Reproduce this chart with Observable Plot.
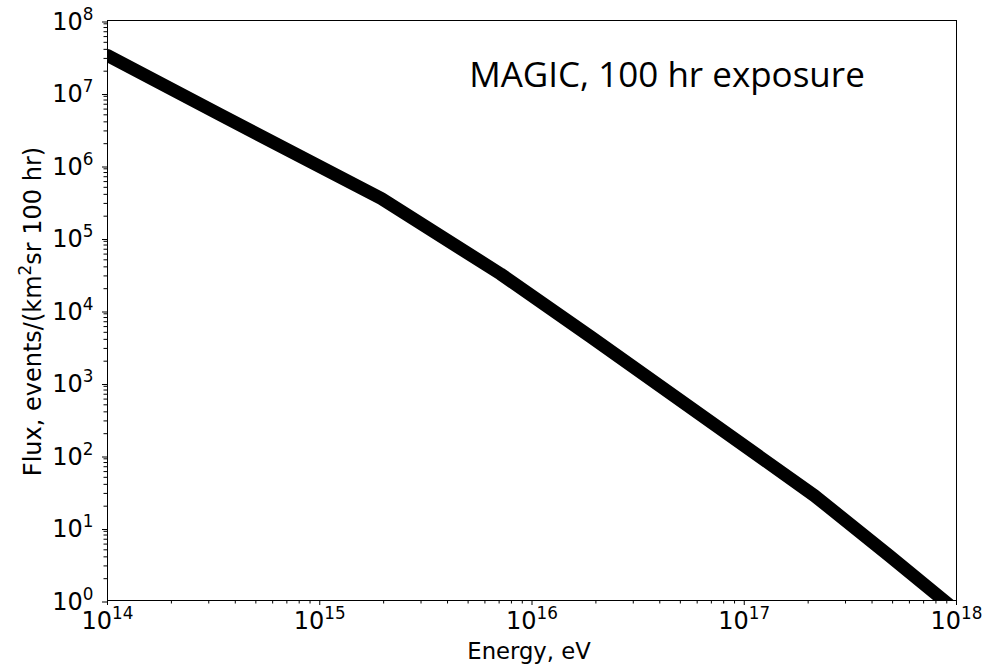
<!DOCTYPE html>
<html><head><meta charset="utf-8">
<script src="https://cdn.jsdelivr.net/npm/d3@7"></script>
<script src="https://cdn.jsdelivr.net/npm/@observablehq/plot@0.6"></script>
<style>
body{margin:0;background:#fff;}
</style></head><body><div id="chart"></div>
<script>
// Data
const energy = [1e14, 3.4e14, 1.95e15, 7.1e15, 1.9e16, 2.14e17, 4.8e17, 1e18];
const flux   = [3.3e7, 5.0e6, 3.5e5, 3.2e4, 4.3e3, 28, 4.2, 0.72];
const xTickExponents = [14, 15, 16, 17, 18];
const yTickExponents = [0, 1, 2, 3, 4, 5, 6, 7, 8];
const minorMultipliers = [2, 3, 4, 5, 6, 7, 8, 9];
const xLabel = "Energy, eV";
const yLabel = "Flux, events/(km^2sr 100 hr)";
const annotation = "MAGIC, 100 hr exposure";

const points = energy.map((e, i) => ({energy: e, flux: flux[i]}));
const xMajor = xTickExponents.map(p => 10 ** p);
const yMajor = yTickExponents.map(p => 10 ** p);
const minorOf = exps => exps.slice(0, -1).flatMap(p => minorMultipliers.map(m => m * 10 ** p));
const expLabel = d => "10^" + Math.round(Math.log10(d));

const chart = Plot.plot({
  width: 1002, height: 665,
  marginLeft: 107, marginRight: 46, marginTop: 20, marginBottom: 65,
  style: {fontFamily: "DejaVu Sans", fontSize: "24px", color: "black", background: "white"},
  x: {type: "log", domain: [1e14, 1e18]},
  y: {type: "log", domain: [1, 1e8]},
  marks: [
    Plot.axisX(minorOf(xTickExponents), {tickSize: 3.5, tickFormat: () => "", label: null}),
    Plot.axisY(minorOf(yTickExponents), {tickSize: 3.5, tickFormat: () => "", label: null}),
    Plot.axisX(xMajor, {tickSize: 5, tickPadding: 6, tickFormat: expLabel, label: null}),
    Plot.axisY(yMajor, {tickSize: 5, tickPadding: 9, tickFormat: expLabel, label: null, dy: 1.5}),
    Plot.line(points, {x: "energy", y: "flux", stroke: "black", strokeWidth: 13, clip: true}),
    Plot.frame({stroke: "black"}),
    Plot.text([xLabel], {frameAnchor: "bottom", dy: 51, dx: -3, lineAnchor: "middle", textAnchor: "middle", fontSize: 22.7}),
    Plot.text([yLabel], {frameAnchor: "left", rotate: -90, dx: -74, dy: 1, lineAnchor: "middle", textAnchor: "middle", fontSize: 24}),
    Plot.text([annotation], {frameAnchor: "top", dx: 135, dy: 55, lineAnchor: "middle", textAnchor: "middle", fontSize: 35, fontFamily: "Open Sans"})
  ]
});

const SVGNS = "http://www.w3.org/2000/svg";
// Turn "10^n" tick labels into real superscripts
chart.querySelectorAll('g[aria-label$="tick label"] text').forEach(t => {
  const m = /^10\^(-?\d+)$/.exec(t.textContent);
  if (!m) return;
  t.textContent = "10";
  const sup = document.createElementNS(SVGNS, "tspan");
  sup.setAttribute("dy", "-10");
  sup.setAttribute("font-size", "16.8");
  sup.textContent = m[1];
  t.appendChild(sup);
});
// Superscript in the y label
chart.querySelectorAll('g[aria-label="text"] text').forEach(t => {
  const s = t.textContent;
  const i = s.indexOf("^2");
  if (i < 0) return;
  t.textContent = "";
  t.appendChild(document.createTextNode(s.slice(0, i)));
  const sup = document.createElementNS(SVGNS, "tspan");
  sup.setAttribute("dy", "-10");
  sup.setAttribute("font-size", "16.8");
  sup.textContent = "2";
  t.appendChild(sup);
  const rest = document.createElementNS(SVGNS, "tspan");
  rest.setAttribute("dy", "10");
  rest.textContent = s.slice(i + 2);
  t.appendChild(rest);
});

document.getElementById("chart").appendChild(chart);
</script>
</body></html>
